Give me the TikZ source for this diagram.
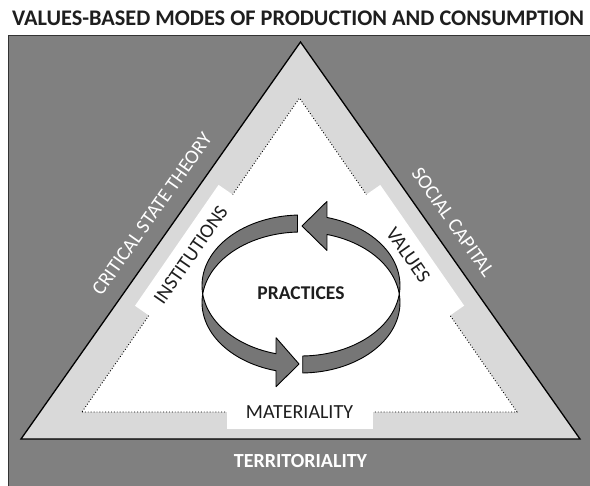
\documentclass[tikz,border=0pt]{standalone}
\usepackage{fontspec}
\setmainfont{Carlito}
\usetikzlibrary{math,calc}

\definecolor{outergrey}{HTML}{808080}
\definecolor{bandgrey}{HTML}{D9D9D9}
\definecolor{loopgrey}{HTML}{767676}
\definecolor{inkgrey}{HTML}{1E1E1E}

\tikzset{
  outerlabel/.style={text=white, inner sep=0pt, font=\fontsize{20}{20}\selectfont},
  sidebox/.style={fill=white, inner sep=0pt, minimum height=34pt, text=inkgrey, font=\fontsize{20}{20}\selectfont},
  looparrow/.style={fill=loopgrey, draw=black, line width=0.9pt, line join=round},
}

\begin{document}
\begin{tikzpicture}[x=1pt,y=-1pt]
  \tikzmath{\cx = 301; \cy = 285.5; \a = 99; \b = 70.5; \h = 17; \hw = 24.5;
    \te = 255.4; \xe = \cx + \a*cos(\te); \ye = \cy - \b*sin(\te) + \h/2;
    \tf = 74.8; \xf = \cx + \a*cos(\tf); \yf = \cy - \b*sin(\tf) + \h/2;}
  \useasboundingbox (0,0) rectangle (590,486);
  \fill[white] (0,0) rectangle (590,486);
  \node[anchor=base west, inner sep=0pt, text=inkgrey, font=\fontsize{22.3}{23}\selectfont\bfseries] (title) at (12,26) {VALUES-BASED MODES OF PRODUCTION AND CONSUMPTION};
  \draw[fill=outergrey, draw=black!80, line width=1pt] (8.5,36) rectangle (600,500);
  \coordinate (O1) at (21,439);
  \coordinate (O2) at (580,439);
  \coordinate (O3) at (300.5,42);
  \coordinate (I1) at (82,412);
  \coordinate (I2) at (517,412);
  \coordinate (I3) at (299.5,98);
  \draw[fill=bandgrey, line width=1.3pt] (O1) -- (O2) -- (O3) -- cycle;
  \draw[fill=white, dotted, line width=0.9pt] (I1) -- (I2) -- (I3) -- cycle;
  \node[sidebox, minimum width=147pt, rotate=55.35] (institutions) at ($(I1)!0.5!(I3)$) {INSTITUTIONS};
  \node[sidebox, minimum width=147pt, rotate=-55.2] (values) at ($(I3)!0.5!(I2)$) {VALUES};
  \node[sidebox, minimum width=146pt] (materiality) at ($(I1)!0.5!(I2)$) {MATERIALITY};
  \node[outerlabel, rotate=54.85] (critical) at (152,214) {CRITICAL STATE THEORY};
  \node[outerlabel, rotate=-54.85] (social) at (453,222) {SOCIAL CAPITAL};
  \node[outerlabel, font=\fontsize{20}{20}\selectfont\bfseries] (territory) at (300.5,461) {TERRITORIALITY};
  \draw[looparrow] plot[domain=92:\te, samples=60] ({\cx+\a*cos(\x)},{\cy-\b*sin(\x)})
    -- (\xe,\ye-\hw) -- (299,364) -- (\xe,\ye+\hw)
    -- plot[domain=\te:92, samples=60] ({\cx+\a*cos(\x)},{\cy+\h-\b*sin(\x)}) -- cycle;
  \draw[looparrow] plot[domain=-89:\tf, samples=60] ({\cx+\a*cos(\x)},{\cy-\b*sin(\x)})
    -- (\xf,\yf-\hw) -- (302,226) -- (\xf,\yf+\hw)
    -- plot[domain=\tf:-89, samples=60] ({\cx+\a*cos(\x)},{\cy+\h-\b*sin(\x)}) -- cycle;
  \node[inner sep=0pt, text=inkgrey, font=\fontsize{19.5}{20}\selectfont\bfseries] (practices) at (\cx,\cy+8) {PRACTICES};
\end{tikzpicture}
\end{document}
